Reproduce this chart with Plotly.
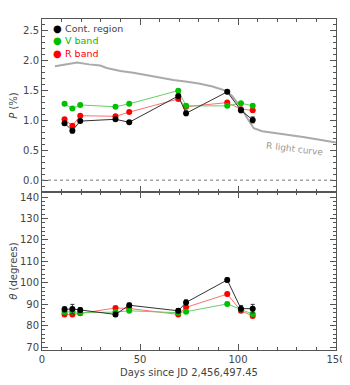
import plotly.graph_objects as go

days = [11.5, 15.5, 19.5, 37.5, 44.5, 69.5, 73.5, 94.5, 101.5, 107.5]

p_cont = [0.955, 0.83, 0.99, 1.02, 0.97, 1.41, 1.12, 1.48, 1.17, 1.01]
p_cont_err = [0.03, 0.04, 0.02, 0.02, 0.02, 0.03, 0.04, 0.03, 0.04, 0.05]
p_v = [1.28, 1.20, 1.26, 1.23, 1.28, 1.50, 1.245, 1.245, 1.29, 1.245]
p_v_err = [0.02] * 10
p_r = [1.02, 0.91, 1.08, 1.07, 1.14, 1.36, 1.23, 1.30, 1.19, 1.17]
p_r_err = [0.02] * 10

th_cont = [87.6, 87.7, 87.3, 85.2, 89.5, 86.9, 90.8, 101.3, 87.9, 87.9]
th_cont_err = [1.2, 2.2, 1.0, 1.0, 1.0, 1.0, 1.2, 1.0, 1.5, 2.0]
th_v = [86.3, 86.5, 86.0, 86.3, 86.9, 86.0, 86.5, 90.1, 87.5, 85.4]
th_v_err = [0.8] * 10
th_r = [85.2, 85.2, 85.7, 88.2, 88.0, 85.2, 88.5, 94.7, 86.9, 84.5]
th_r_err = [0.8] * 10

lc_days = [6.6, 12, 17.9, 24, 29.7, 33, 36.4, 40, 46.6, 53, 60.4, 67, 74, 80, 87,
           93.6, 97, 101.3, 104.5, 108, 112.4, 120, 127.8, 134, 139.6, 145, 150]
lc_vals = [1.91, 1.94, 1.97, 1.94, 1.92, 1.88, 1.85, 1.83, 1.80, 1.76, 1.72, 1.68,
           1.65, 1.62, 1.57, 1.50, 1.41, 1.23, 1.05, 0.87, 0.82, 0.79, 0.75, 0.72,
           0.685, 0.66, 0.63]

series = [
    ("Cont. region", "#000000", "#333333", p_cont, p_cont_err, th_cont, th_cont_err),
    ("V band", "#00c000", "#66d066", p_v, p_v_err, th_v, th_v_err),
    ("R band", "#ff0000", "#ff7070", p_r, p_r_err, th_r, th_r_err),
]

FONT = "DejaVu Sans"
TXT = "#444444"
AX = "#555555"

fig = go.Figure()

fig.add_trace(go.Scatter(x=lc_days, y=lc_vals, mode="lines",
                         line=dict(color="#aaaaaa", width=2),
                         xaxis="x2", yaxis="y2", showlegend=False))

for name, mc, lc, pv, pe, tv, te in reversed(series):
    fig.add_trace(go.Scatter(x=days, y=pv, mode="lines+markers", name=name,
                             line=dict(color=lc, width=1),
                             marker=dict(color=mc, size=6),
                             error_y=dict(type="data", array=pe, color=lc,
                                          thickness=1, width=2),
                             xaxis="x2", yaxis="y2", showlegend=False))
    fig.add_trace(go.Scatter(x=days, y=tv, mode="lines+markers", name=name,
                             line=dict(color=lc, width=1),
                             marker=dict(color=mc, size=6),
                             error_y=dict(type="data", array=te, color=lc,
                                          thickness=1, width=2),
                             xaxis="x", yaxis="y", showlegend=False))

split = 0.477
axcommon = dict(showline=True, linecolor=AX, linewidth=1, mirror="ticks",
                ticks="inside", tickcolor=AX, ticklen=6, showgrid=False,
                zeroline=False, automargin=False,
                tickfont=dict(family=FONT, size=10, color=TXT))

fig.update_layout(
    width=342, height=377,
    margin=dict(l=34, r=14, t=11, b=35),
    paper_bgcolor="white", plot_bgcolor="white",
    font=dict(family=FONT, size=10, color=TXT),
    xaxis=dict(range=[0, 150], dtick=50, anchor="y",
               minor=dict(dtick=10, ticks="inside", ticklen=3, tickcolor=AX),
               title=dict(text="Days since JD 2,456,497.45",
                          font=dict(family=FONT, size=10, color=TXT), standoff=4),
               **axcommon),
    xaxis2=dict(range=[0, 150], dtick=50, anchor="y2", matches="x",
                showticklabels=False,
                minor=dict(dtick=10, ticks="inside", ticklen=3, tickcolor=AX),
                **axcommon),
    yaxis=dict(domain=[0, split], range=[68.6, 142.3], dtick=10, anchor="x",
               minor=dict(dtick=2, ticks="inside", ticklen=3, tickcolor=AX),
               title=dict(text="<i>θ</i> (degrees)",
                          font=dict(family=FONT, size=10, color=TXT), standoff=4),
               **axcommon),
    yaxis2=dict(domain=[split, 1], range=[-0.2, 2.7], dtick=0.5, tickformat=".1f",
                anchor="x2",
                minor=dict(dtick=0.1, ticks="inside", ticklen=3, tickcolor=AX),
                title=dict(text="<i>P</i> (%)",
                           font=dict(family=FONT, size=10, color=TXT), standoff=4),
                **axcommon),
    showlegend=False,
)

fig.add_shape(type="line", xref="x2 domain", yref="y2", x0=0, x1=1, y0=0, y1=0,
              line=dict(color="#777777", width=1, dash="dot"))

fig.add_annotation(text="R light curve", xref="x2", yref="y2", x=129, y=0.52,
                   showarrow=False, textangle=7,
                   font=dict(family=FONT, size=9, color="#999999"))

leg_y = [0.970, 0.934, 0.897]
for (name, mc, lc, *_), yy in zip(series, leg_y):
    fig.add_annotation(text="●", xref="paper", yref="paper", x=0.054, y=yy,
                       showarrow=False, xanchor="center", yanchor="middle",
                       font=dict(family=FONT, size=10, color=mc))
    fig.add_annotation(text=name, xref="paper", yref="paper", x=0.071, y=yy,
                       showarrow=False, xanchor="left", yanchor="middle",
                       font=dict(family=FONT, size=9.5,
                                 color=TXT if mc == "#000000" else mc))

fig.write_html("out.html")
